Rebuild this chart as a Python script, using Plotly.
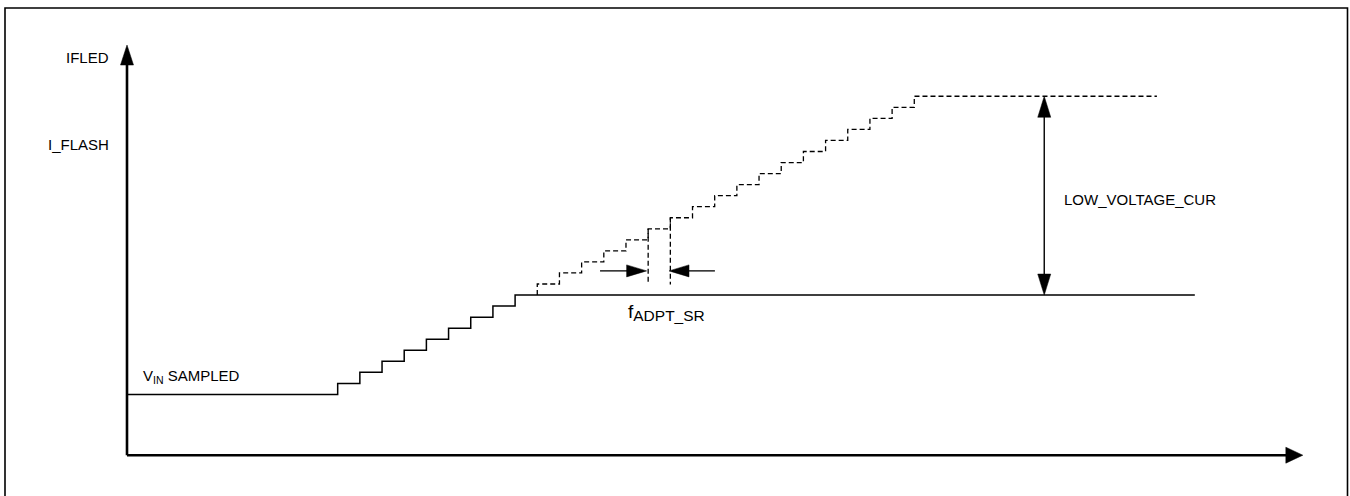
import plotly.graph_objects as go

# ---------------- data (time in step periods, current in step units) ----------------
base_level = 5.5                      # V_IN sampled current level
solid_step_times = [9.5, 10.5, 11.5, 12.5, 13.5, 14.5, 15.5, 16.5, 17.5]
solid_levels = [6.5, 7.5, 8.5, 9.5, 10.5, 11.5, 12.5, 13.5, 14.5]
solid_end_time = 48.15

dashed_step_times = [18.5, 19.5, 20.5, 21.5, 22.5, 23.5, 24.5, 25.5, 26.5,
                     27.5, 28.5, 29.5, 30.5, 31.5, 32.5, 33.5, 34.5, 35.5]
dashed_levels = [15.5, 16.5, 17.5, 18.5, 19.5, 20.5, 21.5, 22.5, 23.5,
                 24.5, 25.5, 26.5, 27.5, 28.5, 29.5, 30.5, 31.5, 32.5]
dashed_end_time = 46.44

x_axis_end = 53.02
y_axis_end = 37.14

period_marker_times = [23.5, 24.5]     # dashed drop lines marking one period
period_marker_top = [20.5, 21.5]
period_marker_bottom = 15.45
period_arrow_level = 16.69
period_arrow_left = [21.33, 23.43]     # from, tip
period_arrow_right = [26.51, 24.44]    # from, tip

lvc_time = 41.36                       # LOW_VOLTAGE_CUR double arrow
lvc_low = 14.5
lvc_high = 32.5

# ---------------- scale helpers ----------------
W, H = 1350, 496
PX_T = 22.177      # pixels per time unit
PX_I = 11.044      # pixels per current unit
X0_PX, Y0_PX = 127.0, 455.2
x_range = [-X0_PX / PX_T, (W - X0_PX) / PX_T]
y_range = [-(H - Y0_PX) / PX_I, Y0_PX / PX_I]

FONT = dict(family="Liberation Sans, Arial, sans-serif", size=15, color="black")

fig = go.Figure()

# solid staircase
xs = [0.0] + solid_step_times + [solid_end_time]
ys = [base_level] + solid_levels + [solid_levels[-1]]
fig.add_trace(go.Scatter(x=xs, y=ys, mode="lines", line_shape="hv",
                         line=dict(color="black", width=1.5), hoverinfo="skip"))

# dashed staircase
xd = [dashed_step_times[0]] + dashed_step_times + [dashed_end_time]
yd = [solid_levels[-1]] + dashed_levels + [dashed_levels[-1]]
fig.add_trace(go.Scatter(x=xd, y=yd, mode="lines", line_shape="hv",
                         line=dict(color="black", width=1.3, dash="5px,3px"),
                         hoverinfo="skip"))

# period marker dashed drop lines
for t, top in zip(period_marker_times, period_marker_top):
    fig.add_trace(go.Scatter(x=[t, t], y=[top, period_marker_bottom], mode="lines",
                             line=dict(color="black", width=1.3, dash="5px,3px"),
                             hoverinfo="skip"))

shapes = []


def line(x0, y0, x1, y1, w):
    shapes.append(dict(type="line", xref="x", yref="y", x0=x0, y0=y0, x1=x1, y1=y1,
                       line=dict(color="black", width=w)))


def head(tx, ty, dx, dy, length_px, width_px):
    # dx, dy: unit direction in pixel space (dy positive = up)
    bx_px = -dx * length_px
    by_px = -dy * length_px
    px, py = -dy * width_px / 2, dx * width_px / 2
    p1 = (tx, ty)
    p2 = (tx + (bx_px + px) / PX_T, ty + (by_px + py) / PX_I)
    p3 = (tx + (bx_px - px) / PX_T, ty + (by_px - py) / PX_I)
    path = "M {},{} L {},{} L {},{} Z".format(*p1, *p2, *p3)
    shapes.append(dict(type="path", xref="x", yref="y", path=path,
                       fillcolor="black", line=dict(color="black", width=0.5)))


# axes
line(0, 0, 0, y_axis_end - 15 / PX_I, 2.6)
head(0, y_axis_end, 0, 1, 20, 13)
line(0, 0, x_axis_end - 14 / PX_T, 0, 2.6)
head(x_axis_end, 0, 1, 0, 17, 16)

# period arrows
line(period_arrow_left[0], period_arrow_level, period_arrow_left[1] - 15 / PX_T, period_arrow_level, 1.3)
head(period_arrow_left[1], period_arrow_level, 1, 0, 20, 12)
line(period_arrow_right[0], period_arrow_level, period_arrow_right[1] + 15 / PX_T, period_arrow_level, 1.3)
head(period_arrow_right[1], period_arrow_level, -1, 0, 20, 12)

# LOW_VOLTAGE_CUR double arrow
line(lvc_time, lvc_low + 15 / PX_I, lvc_time, lvc_high - 15 / PX_I, 1.4)
head(lvc_time, lvc_high, 0, 1, 21, 13)
head(lvc_time, lvc_low, 0, -1, 21, 13)

# outer frame
shapes.append(dict(type="rect", xref="paper", yref="paper",
                   x0=5 / W, x1=1347.5 / W, y0=-0.01, y1=1 - 8 / H,
                   line=dict(color="black", width=1.6)))


def px_to_t(px):
    return (px - X0_PX) / PX_T


def py_to_i(py):
    return (Y0_PX - py) / PX_I


annotations = [
    dict(x=px_to_t(111), y=py_to_i(57), text="IFLED", xanchor="right", yanchor="middle"),
    dict(x=px_to_t(111), y=py_to_i(144.5), text="I_FLASH", xanchor="right", yanchor="middle"),
    dict(x=px_to_t(141), y=py_to_i(376), text="V<sub>IN</sub> SAMPLED", xanchor="left", yanchor="middle"),
    dict(x=px_to_t(1062), y=py_to_i(199.5), text="LOW_VOLTAGE_CUR", xanchor="left", yanchor="middle"),
    dict(x=px_to_t(626), y=py_to_i(312),
         text="<span style='font-size:19px'>f</span><sub><span style='font-size:15.5px'>ADPT_SR</span></sub>",
         xanchor="left", yanchor="middle"),
]
for a in annotations:
    a.update(xref="x", yref="y", showarrow=False, font=FONT)

fig.update_layout(
    width=W, height=H, autosize=False,
    margin=dict(l=0, r=0, t=0, b=0, pad=0),
    paper_bgcolor="white", plot_bgcolor="white",
    showlegend=False,
    xaxis=dict(range=x_range, visible=False, fixedrange=True),
    yaxis=dict(range=y_range, visible=False, fixedrange=True),
    shapes=shapes, annotations=annotations,
)

fig.write_html("out.html", config={"displayModeBar": False},
               post_script="document.body.style.margin='0';document.body.style.overflow='hidden';")
